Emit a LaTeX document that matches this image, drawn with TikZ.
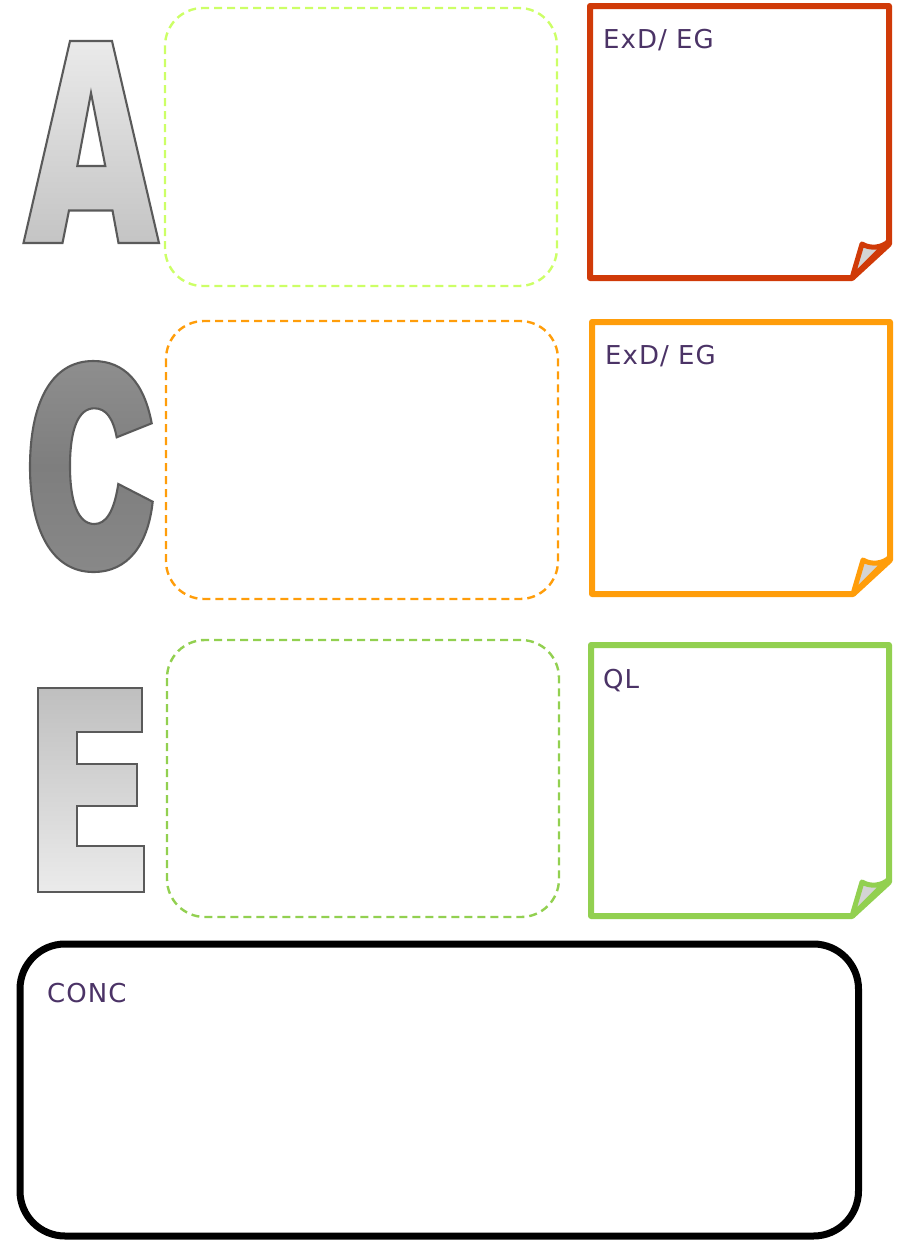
\documentclass[tikz,border=0pt]{standalone}
\usepackage{fontspec}
\setmainfont{DejaVu Sans}
\newfontfamily\labfont[LetterSpace=4]{DejaVu Sans}
\definecolor{txt}{HTML}{4B3366}
\definecolor{lime}{HTML}{CCFF66}
\definecolor{orng}{HTML}{FF9D0A}
\definecolor{grn}{HTML}{92D050}
\definecolor{red1}{HTML}{D03A08}
\definecolor{foldgray}{HTML}{D4D4D4}
\definecolor{lett}{HTML}{5A5A5A}
\tikzset{
  dashbox/.style={line width=2.4pt, dash pattern=on 8pt off 5pt, rounded corners=38pt},
  notebox/.style={line width=6pt, line join=round},
  foldflap/.style={line width=5pt, line join=round, fill=foldgray},
  label/.style={anchor=base west, inner sep=0pt, text=txt, font=\labfont\fontsize{26}{30}\selectfont},
  letter/.style={draw=lett, line width=2.1pt, line join=miter},
}
\begin{document}
\begin{tikzpicture}[x=1pt,y=-1pt]
\useasboundingbox (0,0) rectangle (902,1240);
% Letter A
\path[letter, even odd rule, top color={rgb,255:red,234;green,234;blue,234}, bottom color={rgb,255:red,196;green,196;blue,196}]
  (70,41) -- (112,41) -- (159,243) -- (118.5,243) -- (112.5,210.5) -- (69,210.5) -- (62.5,243) -- (23.5,243) -- cycle
  (91,93) -- (105.3,166) -- (77.3,166) -- cycle;
% Letter C
\path[letter, top color={rgb,255:red,142;green,142;blue,142}, bottom color={rgb,255:red,136;green,136;blue,136}, middle color={rgb,255:red,126;green,126;blue,126}]
  (151.7,423.3) .. controls (144,382) and (124,361) .. (93.3,361)
  .. controls (50,361) and (30,405) .. (30,467)
  .. controls (30,530) and (52,572) .. (93.3,572)
  .. controls (128,572) and (148,545) .. (152.7,501.7)
  -- (118.3,484)
  .. controls (114,512) and (106,524) .. (94.3,524)
  .. controls (78,524) and (70,502) .. (70,466)
  .. controls (70,430) and (78,408.3) .. (94.3,408.3)
  .. controls (106,408.3) and (113,418) .. (116.7,437.3)
  -- cycle;
% Letter E
\path[letter, top color={rgb,255:red,191;green,191;blue,191}, bottom color={rgb,255:red,235;green,235;blue,235}]
  (38.3,688.3) -- (142.3,688.3) -- (142.3,731.7) -- (77.3,731.7) -- (77.3,764.3) -- (137.3,764.3)
  -- (137.3,805.7) -- (77.3,805.7) -- (77.3,845.7) -- (144,845.7) -- (144,891.7) -- (38.3,891.7) -- cycle;
% dashed boxes
\draw[dashbox, draw=lime] (165,8) rectangle (557,286);
\draw[dashbox, draw=orng] (166,321) rectangle (558,599);
\draw[dashbox, draw=grn] (167,640) rectangle (559,917);
% sticky notes
\draw[notebox, draw=red1] (590,6) -- (889,6) -- (889,244) -- (852,278) -- (590,278) -- cycle;
\draw[foldflap, draw=red1] (852,278) -- (862,244) .. controls (870,249) and (882,248) .. (889,241) -- cycle;
\node[label] (t1) at (603,48) {ExD/ EG};

\draw[notebox, draw=orng] (592,322) -- (890,322) -- (890,560) -- (853,594) -- (592,594) -- cycle;
\draw[foldflap, draw=orng] (853,594) -- (863,560) .. controls (871,565) and (883,564) .. (890,557) -- cycle;
\node[label] (t2) at (605,364.5) {ExD/ EG};

\draw[notebox, draw=grn] (591,645) -- (889,645) -- (889,882) -- (852,916) -- (591,916) -- cycle;
\draw[foldflap, draw=grn] (852,916) -- (862,882) .. controls (870,887) and (882,886) .. (889,879) -- cycle;
\node[label] (t3) at (603,688.5) {QL};

% conclusion box
\draw[line width=7pt, rounded corners=45pt] (20,944) rectangle (858.5,1236);
\node[label] (t4) at (47,1002) {CONC};
\end{tikzpicture}
\end{document}
